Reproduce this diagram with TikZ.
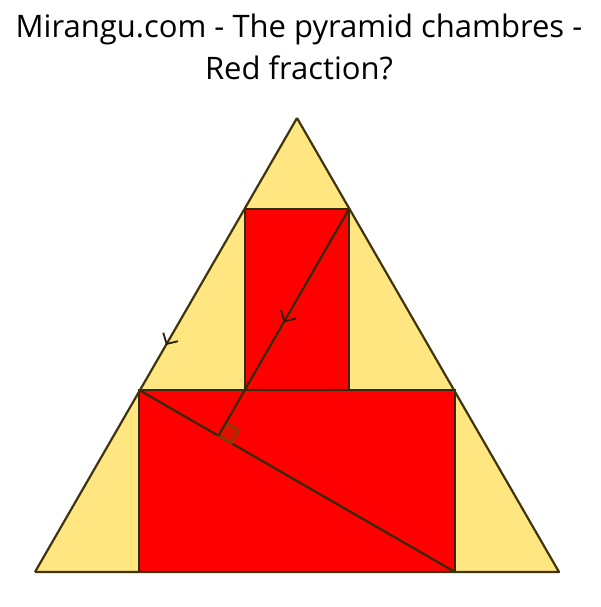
\documentclass[tikz,border=0pt]{standalone}
\usepackage{fontspec}
\setmainfont{Open Sans}
\usepackage{tikz}
\usetikzlibrary{arrows.meta}
\usetikzlibrary{decorations.markings}
\definecolor{pyryellow}{RGB}{255,230,128}
\definecolor{pyrred}{RGB}{255,0,0}
\definecolor{pyredge}{RGB}{64,52,12}
\definecolor{anglebrown}{RGB}{128,64,0}
\tikzset{
  chevron/.style={postaction={decorate,decoration={markings,
    mark=at position 0.5 with {\arrow[pyredge!60!black,line width=1.8pt]{Straight Barb[length=8pt,width=17pt]}}}}},
  side/.style={draw=pyredge,line width=2.2pt,line join=round},
  chamber/.style={fill=pyrred,draw=pyredge!80!black,line width=2.2pt}
}

\begin{document}
\begin{tikzpicture}[x=1pt,y=-1pt]
        \useasboundingbox (0,0) rectangle (600,607);
        % Title
        \node[anchor=base,font=\fontsize{31}{36}\selectfont] (title1) at (299,38) {Mirangu.com - The pyramid chambres -};
        \node[anchor=base,font=\fontsize{31}{36}\selectfont] (title2) at (299,80) {Red fraction?};

        % Pyramid
        \coordinate (apex) at (297,118);
        \coordinate (bl) at (35,572);
        \coordinate (br) at (559,572);
        \fill[pyryellow] (apex) -- (bl) -- (br) -- cycle;

        % Chambers
        \coordinate (lowtl) at (139,390);
        \coordinate (lowbr) at (455,572);
        \coordinate (uptl) at (245,209);
        \coordinate (uptr) at (349,209);
        \coordinate (upbl) at (245,390);
        \draw[chamber] (lowtl) rectangle (lowbr);
        \draw[chamber] (uptl) rectangle (upbl -| uptr);

        % Diagonal and perpendicular
        \coordinate (foot) at (218.4,435.7);
        \draw[draw=pyredge!80!black,line width=2.2pt] (lowtl) -- (lowbr);
        \draw[anglebrown,line width=2.2pt,fill=anglebrown,fill opacity=0.25]
          (foot) -- ++(13.0,7.5) -- ++(7.5,-13.0) -- ++(-13.0,-7.5) -- cycle;
        \draw[draw=pyredge!80!black,line width=2.2pt,chevron] (uptr) -- (foot);

        % Pyramid outline
        \draw[side,chevron] (apex) -- (bl);
        \draw[side] (bl) -- (br) -- (apex);
    \end{tikzpicture}
\end{document}
